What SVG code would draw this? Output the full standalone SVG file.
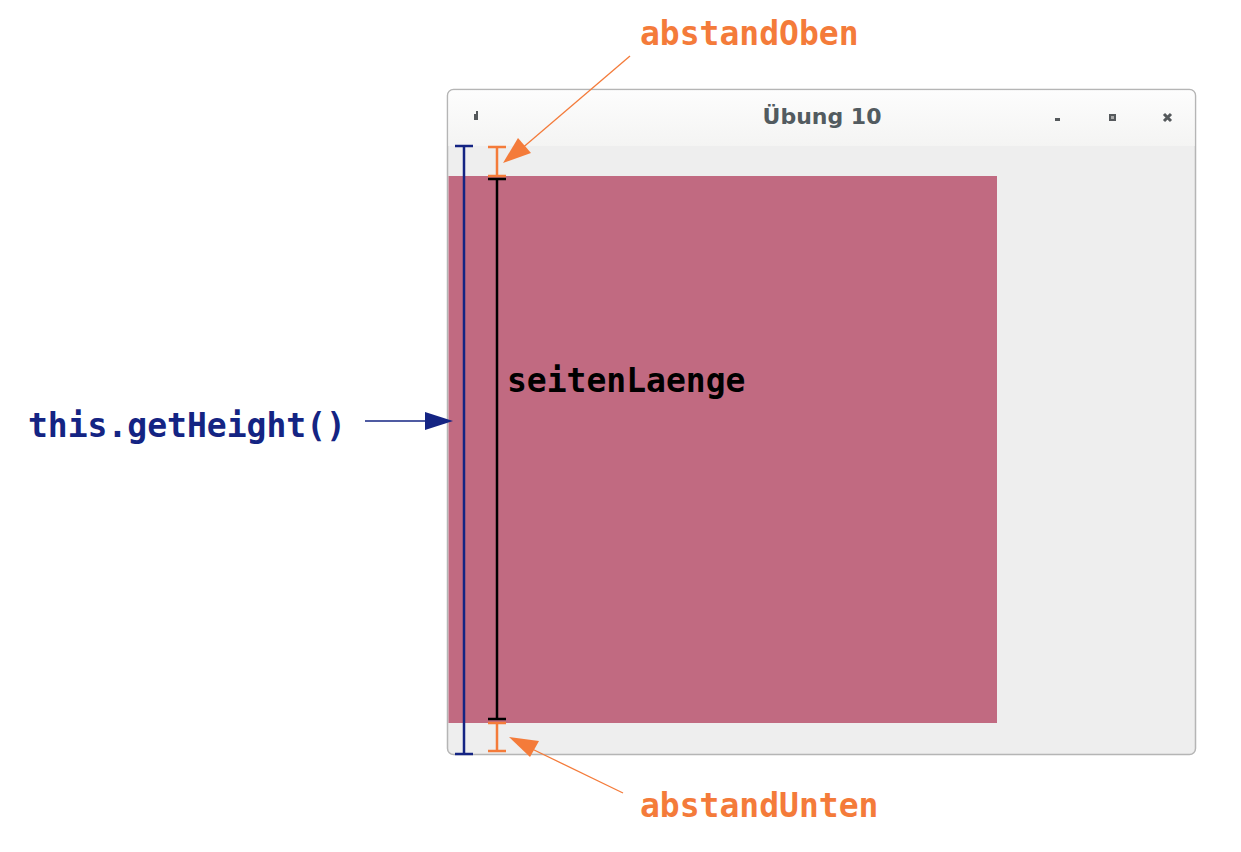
<svg xmlns="http://www.w3.org/2000/svg" width="1241" height="852" viewBox="0 0 1241 852">
<style>
.lbl{font-family:"DejaVu Sans Mono","Liberation Mono",monospace;font-weight:bold;font-size:33px}
.or{fill:#f47b3a}
.bl{fill:#142483}
.bk{fill:#000}
.ttl{font-family:"DejaVu Sans","Liberation Sans",sans-serif;font-weight:bold;font-size:22px;fill:#525b60}
</style>
<defs>
<linearGradient id="tb" x1="0" y1="0" x2="0" y2="1"><stop offset="0" stop-color="#fdfdfd"/><stop offset="1" stop-color="#f4f4f3"/></linearGradient>
</defs>
<g id="window">
<rect x="447.5" y="89.5" width="748" height="665" rx="6" fill="#eeeeee" stroke="#b5b5b5" stroke-width="1.5"/>
<path d="M448.3,146 V96 Q448.3,90.3 454,90.3 H1189 Q1194.7,90.3 1194.7,96 V146 Z" fill="url(#tb)"/>
<text class="ttl" x="822" y="124" text-anchor="middle">Übung 10</text>
<rect x="474" y="114" width="4" height="6" fill="#55595c"/>
<rect x="476" y="111" width="2" height="4" fill="#55595c"/>
<rect x="1055" y="118" width="5" height="3" fill="#55595c"/>
<rect x="1109" y="114" width="7" height="7" fill="#55595c"/>
<rect x="1111" y="116" width="3" height="3" fill="#aaa"/>
<path d="M1164,114 L1171,121 M1171,114 L1164,121" stroke="#55595c" stroke-width="3"/>
<rect x="448.5" y="176" width="548.5" height="547" fill="#c16a81"/>
</g>
<g id="dimensions">
<g id="height" stroke="#142483" stroke-width="2.5" fill="none">
<path d="M464,146 V754 M455,146 H473 M455,754 H473"/>
</g>
<g id="abstandObenDim" stroke="#f47b3a" stroke-width="2.5" fill="none">
<path d="M497,147 V176 M488,147 H506 M488,176 H506"/>
</g>
<g id="seitenDim" stroke="#000" stroke-width="2.5" fill="none">
<path d="M497,179 V719 M488,179 H506 M488,719 H506"/>
</g>
<g id="abstandUntenDim" stroke="#f47b3a" stroke-width="2.5" fill="none">
<path d="M497,723 V751 M488,723 H506 M488,751 H506"/>
</g>
</g>
<g id="connectors" fill="none" stroke-width="1.3">
<path d="M630,56 L520,150" stroke="#f47b3a"/>
<path d="M518,138 L503,163 L531,153 Z" fill="#f47b3a" stroke="none"/>
<path d="M623,793 L530,748" stroke="#f47b3a"/>
<path d="M539,741 L509,737 L530,757 Z" fill="#f47b3a" stroke="none"/>
<path d="M365,421 L430,421" stroke="#142483"/>
<path d="M425,412 L453,421 L425,430 Z" fill="#142483" stroke="none"/>
</g>
<g id="labels">
<text class="lbl or" x="640" y="45">abstandOben</text>
<text class="lbl or" x="640" y="817">abstandUnten</text>
<text class="lbl bl" x="28" y="437">this.getHeight()</text>
<text class="lbl bk" x="507" y="392">seitenLaenge</text>
</g>
</svg>
